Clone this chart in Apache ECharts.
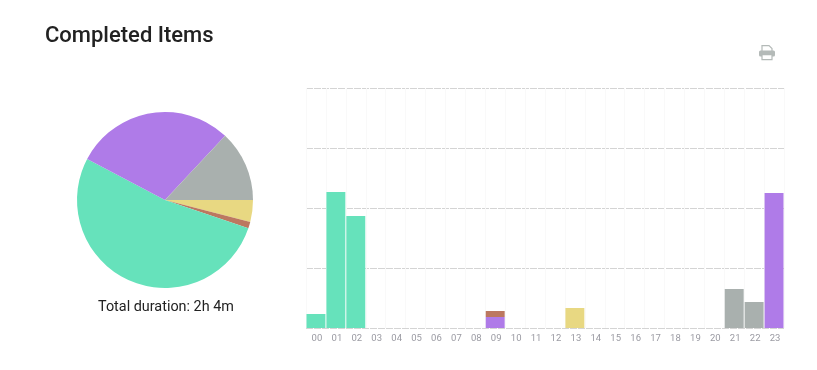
<!DOCTYPE html>
<html>
<head>
<meta charset="utf-8">
<script src="https://cdn.jsdelivr.net/npm/echarts@6/dist/echarts.min.js"></script>
<style>
  html, body { margin: 0; padding: 0; background: #fff; }
  #main { width: 817px; height: 370px; }
</style>
</head>
<body>
<div id="main"></div>
<script>
// minutes per hour of the day
var hours = ["00","01","02","03","04","05","06","07","08","09","10","11","12","13","14","15","16","17","18","19","20","21","22","23"];
var greenValues  = [3.5,34,28,0,0,0,0,0,0,0,0,0,0,0,0,0,0,0,0,0,0,0,0,0];
var purpleValues = [0,0,0,0,0,0,0,0,0,2.75,0,0,0,0,0,0,0,0,0,0,0,0,0,33.75];
var brownValues  = [0,0,0,0,0,0,0,0,0,1.5,0,0,0,0,0,0,0,0,0,0,0,0,0,0];
var yellowValues = [0,0,0,0,0,0,0,0,0,0,0,0,0,5,0,0,0,0,0,0,0,0,0,0];
var greyValues   = [0,0,0,0,0,0,0,0,0,0,0,0,0,0,0,0,0,0,0,0,0,9.75,6.5,0];

// pie slices in drawing order, clockwise from 3 o'clock
var pieNames  = ["yellow", "brown", "green", "purple", "grey"];
var pieValues = [5, 1.5, 65.5, 36.5, 16.25];
var pieColors = ["#e8d882", "#bc7860", "#66e2bb", "#af7be8", "#a9b0ae"];

var myChart = echarts.init(document.getElementById("main"), null, { renderer: "canvas" });

function barSeries (name, values, color) {
  return {
    name: name,
    type: "bar",
    stack: "total",
    barCategoryGap: "5%",
    silent: true,
    itemStyle: { color: color },
    data: values
  };
}

myChart.setOption({
  animation: false,
  textStyle: { fontFamily: "Roboto" },
  title: {
    text: "Completed Items",
    left: 45,
    top: 25,
    padding: 0,
    textStyle: { fontFamily: "Roboto", fontSize: 22, fontWeight: 500, color: "#222" }
  },
  grid: { left: 306, right: 33, top: 88, bottom: 42, containLabel: false },
  xAxis: {
    type: "category",
    data: hours,
    axisLine: { show: false },
    axisTick: { show: false },
    axisLabel: { color: "#9a9aa2", fontSize: 9.5, margin: 6, interval: 0, padding: [0, 0, 0, 2] },
    splitLine: { show: true, interval: 0, lineStyle: { color: "#f9f9f9", width: 1 } }
  },
  yAxis: {
    type: "value",
    min: 0,
    max: 60,
    interval: 15,
    axisLine: { show: false },
    axisTick: { show: false },
    axisLabel: { show: false },
    splitLine: { lineStyle: { color: "#d4d4d4", type: [7, 1], width: 1 } }
  },
  series: [
    barSeries("green", greenValues, "#66e2bb"),
    barSeries("purple", purpleValues, "#af7be8"),
    barSeries("brown", brownValues, "#bc7860"),
    barSeries("yellow", yellowValues, "#e8d882"),
    barSeries("grey", greyValues, "#a9b0ae"),
    {
      type: "pie",
      center: [165, 200],
      radius: [0, 88],
      startAngle: 0,
      clockwise: true,
      silent: true,
      label: { show: false },
      labelLine: { show: false },
      data: pieNames.map(function (name, i) {
        return { name: name, value: pieValues[i], itemStyle: { color: pieColors[i] } };
      })
    }
  ],
  graphic: [
    {
      type: "text",
      left: 98,
      top: 300,
      style: { text: "Total duration: 2h 4m", fontFamily: "Roboto", fontSize: 14.4, fontWeight: 400, fill: "#222" }
    },
    {
      // printer icon
      type: "group",
      left: 759,
      top: 45,
      children: [
        { type: "polygon", shape: { points: [[3,0],[10,0],[13,3],[13,6],[3,6]] }, style: { fill: "#fff", stroke: "#b4bab8", lineWidth: 1.2 } },
        { type: "rect", shape: { x: 0, y: 5, width: 16, height: 6, r: 1.5 }, style: { fill: "#b4bab8" } },
        { type: "rect", shape: { x: 3, y: 9, width: 10, height: 5 }, style: { fill: "#fff", stroke: "#b4bab8", lineWidth: 1.2 } }
      ]
    }
  ]
});
</script>
</body>
</html>
